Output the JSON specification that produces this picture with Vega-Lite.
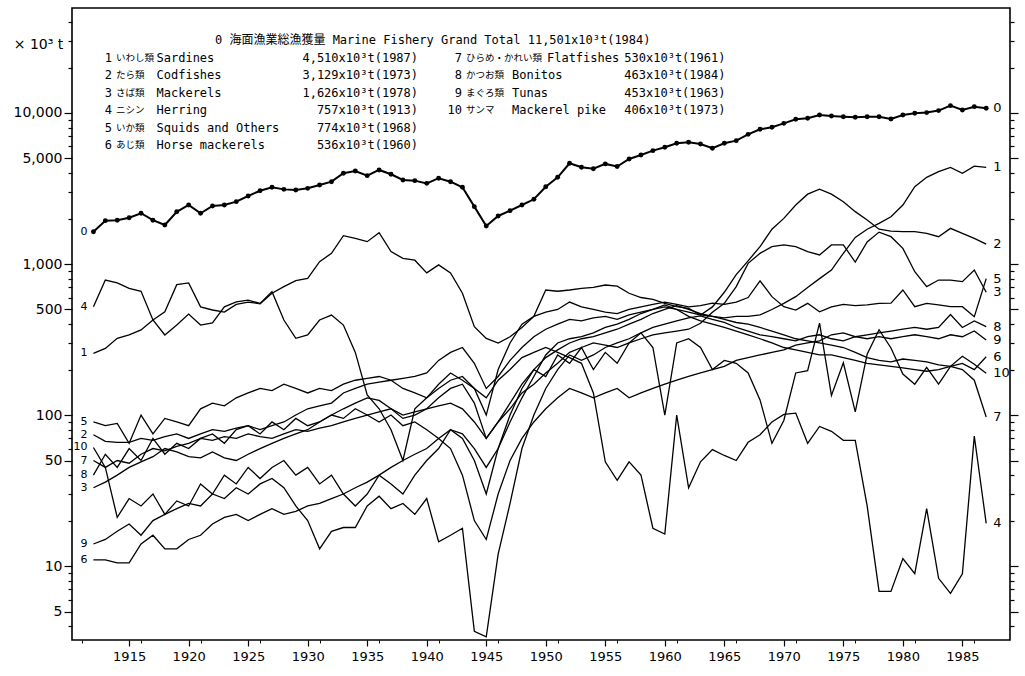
{
"$schema": "https://vega.github.io/schema/vega-lite/v6.json",
"width": 938, "height": 632,
"autosize": {"type": "none"},
"padding": {"left": 72, "top": 8, "right": 15, "bottom": 36},
"background": "white",
"config": {"view": {"stroke": "black", "strokeWidth": 1.6}, "font": "DejaVu Sans", "axis": {"labelFlush": false}},
"datasets": {
"legend": [
{"id":0,"ja":"海面漁業総漁獲量","en":"Marine Fishery Grand Total","max":"11,501x10³t(1984)"},
{"id":1,"ja":"いわし類","en":"Sardines","max":"4,510x10³t(1987)"},
{"id":2,"ja":"たら類","en":"Codfishes","max":"3,129x10³t(1973)"},
{"id":3,"ja":"さば類","en":"Mackerels","max":"1,626x10³t(1978)"},
{"id":4,"ja":"ニシン","en":"Herring","max":"757x10³t(1913)"},
{"id":5,"ja":"いか類","en":"Squids and Others","max":"774x10³t(1968)"},
{"id":6,"ja":"あじ類","en":"Horse mackerels","max":"536x10³t(1960)"},
{"id":7,"ja":"ひらめ・かれい類","en":"Flatfishes","max":"530x10³t(1961)"},
{"id":8,"ja":"かつお類","en":"Bonitos","max":"463x10³t(1984)"},
{"id":9,"ja":"まぐろ類","en":"Tunas","max":"453x10³t(1963)"},
{"id":10,"ja":"サンマ","en":"Mackerel pike","max":"406x10³t(1973)"}
],
"series": [
{"s":0,"year":1912,"v":1637},{"s":0,"year":1913,"v":1937},{"s":0,"year":1914,"v":1950},{"s":0,"year":1915,"v":2026},{"s":0,"year":1916,"v":2168},{"s":0,"year":1917,"v":1950},{"s":0,"year":1918,"v":1812},{"s":0,"year":1919,"v":2218},{"s":0,"year":1920,"v":2459},{"s":0,"year":1921,"v":2168},{"s":0,"year":1922,"v":2422},{"s":0,"year":1923,"v":2459},{"s":0,"year":1924,"v":2587},{"s":0,"year":1925,"v":2820},{"s":0,"year":1926,"v":3057},{"s":0,"year":1927,"v":3220},{"s":0,"year":1928,"v":3120},{"s":0,"year":1929,"v":3090},{"s":0,"year":1930,"v":3170},{"s":0,"year":1931,"v":3335},{"s":0,"year":1932,"v":3508},{"s":0,"year":1933,"v":3990},{"s":0,"year":1934,"v":4130},{"s":0,"year":1935,"v":3846},{"s":0,"year":1936,"v":4195},{"s":0,"year":1937,"v":3930},{"s":0,"year":1938,"v":3600},{"s":0,"year":1939,"v":3565},{"s":0,"year":1940,"v":3420},{"s":0,"year":1941,"v":3700},{"s":0,"year":1942,"v":3508},{"s":0,"year":1943,"v":3220},{"s":0,"year":1944,"v":2398},{"s":0,"year":1945,"v":1786},{"s":0,"year":1946,"v":2080},{"s":0,"year":1947,"v":2255},{"s":0,"year":1948,"v":2459},{"s":0,"year":1949,"v":2682},{"s":0,"year":1950,"v":3250},{"s":0,"year":1951,"v":3750},{"s":0,"year":1952,"v":4645},{"s":0,"year":1953,"v":4368},{"s":0,"year":1954,"v":4277},{"s":0,"year":1955,"v":4600},{"s":0,"year":1956,"v":4418},{"s":0,"year":1957,"v":4960},{"s":0,"year":1958,"v":5270},{"s":0,"year":1959,"v":5630},{"s":0,"year":1960,"v":5930},{"s":0,"year":1961,"v":6300},{"s":0,"year":1962,"v":6400},{"s":0,"year":1963,"v":6230},{"s":0,"year":1964,"v":5840},{"s":0,"year":1965,"v":6300},{"s":0,"year":1966,"v":6560},{"s":0,"year":1967,"v":7220},{"s":0,"year":1968,"v":7800},{"s":0,"year":1969,"v":8040},{"s":0,"year":1970,"v":8540},{"s":0,"year":1971,"v":9090},{"s":0,"year":1972,"v":9230},{"s":0,"year":1973,"v":9700},{"s":0,"year":1974,"v":9550},{"s":0,"year":1975,"v":9450},{"s":0,"year":1976,"v":9360},{"s":0,"year":1977,"v":9450},{"s":0,"year":1978,"v":9450},{"s":0,"year":1979,"v":9130},{"s":0,"year":1980,"v":9700},{"s":0,"year":1981,"v":9950},{"s":0,"year":1982,"v":10060},{"s":0,"year":1983,"v":10370},{"s":0,"year":1984,"v":11180},{"s":0,"year":1985,"v":10470},{"s":0,"year":1986,"v":11010},{"s":0,"year":1987,"v":10740},

{"s":1,"year":1912,"v":256},{"s":1,"year":1913,"v":276},{"s":1,"year":1914,"v":322},{"s":1,"year":1915,"v":339},{"s":1,"year":1916,"v":366},{"s":1,"year":1917,"v":426},{"s":1,"year":1918,"v":483},{"s":1,"year":1919,"v":730},{"s":1,"year":1920,"v":750},{"s":1,"year":1921,"v":520},{"s":1,"year":1922,"v":496},{"s":1,"year":1923,"v":480},{"s":1,"year":1924,"v":540},{"s":1,"year":1925,"v":560},{"s":1,"year":1926,"v":545},{"s":1,"year":1927,"v":640},{"s":1,"year":1928,"v":708},{"s":1,"year":1929,"v":776},{"s":1,"year":1930,"v":804},{"s":1,"year":1931,"v":1037},{"s":1,"year":1932,"v":1177},{"s":1,"year":1933,"v":1540},{"s":1,"year":1934,"v":1480},{"s":1,"year":1935,"v":1406},{"s":1,"year":1936,"v":1613},{"s":1,"year":1937,"v":1208},{"s":1,"year":1938,"v":1090},{"s":1,"year":1939,"v":1060},{"s":1,"year":1940,"v":874},{"s":1,"year":1941,"v":987},{"s":1,"year":1942,"v":874},{"s":1,"year":1943,"v":640},{"s":1,"year":1944,"v":385},{"s":1,"year":1945,"v":322},{"s":1,"year":1946,"v":300},{"s":1,"year":1947,"v":330},{"s":1,"year":1948,"v":380},{"s":1,"year":1949,"v":450},{"s":1,"year":1950,"v":673},{"s":1,"year":1951,"v":660},{"s":1,"year":1952,"v":673},{"s":1,"year":1953,"v":690},{"s":1,"year":1954,"v":700},{"s":1,"year":1955,"v":726},{"s":1,"year":1956,"v":714},{"s":1,"year":1957,"v":640},{"s":1,"year":1958,"v":600},{"s":1,"year":1959,"v":583},{"s":1,"year":1960,"v":549},{"s":1,"year":1961,"v":522},{"s":1,"year":1962,"v":508},{"s":1,"year":1963,"v":460},{"s":1,"year":1964,"v":450},{"s":1,"year":1965,"v":440},{"s":1,"year":1966,"v":450},{"s":1,"year":1967,"v":450},{"s":1,"year":1968,"v":460},{"s":1,"year":1969,"v":500},{"s":1,"year":1970,"v":549},{"s":1,"year":1971,"v":608},{"s":1,"year":1972,"v":700},{"s":1,"year":1973,"v":800},{"s":1,"year":1974,"v":912},{"s":1,"year":1975,"v":1178},{"s":1,"year":1976,"v":1500},{"s":1,"year":1977,"v":1700},{"s":1,"year":1978,"v":1858},{"s":1,"year":1979,"v":2057},{"s":1,"year":1980,"v":2459},{"s":1,"year":1981,"v":3253},{"s":1,"year":1982,"v":3750},{"s":1,"year":1983,"v":4086},{"s":1,"year":1984,"v":4365},{"s":1,"year":1985,"v":3985},{"s":1,"year":1986,"v":4450},{"s":1,"year":1987,"v":4365},

{"s":2,"year":1912,"v":74},{"s":2,"year":1913,"v":67},{"s":2,"year":1914,"v":66},{"s":2,"year":1915,"v":66},{"s":2,"year":1916,"v":70},{"s":2,"year":1917,"v":68},{"s":2,"year":1918,"v":72},{"s":2,"year":1919,"v":75},{"s":2,"year":1920,"v":70},{"s":2,"year":1921,"v":75},{"s":2,"year":1922,"v":80},{"s":2,"year":1923,"v":78},{"s":2,"year":1924,"v":82},{"s":2,"year":1925,"v":85},{"s":2,"year":1926,"v":80},{"s":2,"year":1927,"v":85},{"s":2,"year":1928,"v":90},{"s":2,"year":1929,"v":100},{"s":2,"year":1930,"v":110},{"s":2,"year":1931,"v":115},{"s":2,"year":1932,"v":120},{"s":2,"year":1933,"v":140},{"s":2,"year":1934,"v":150},{"s":2,"year":1935,"v":160},{"s":2,"year":1936,"v":165},{"s":2,"year":1937,"v":170},{"s":2,"year":1938,"v":175},{"s":2,"year":1939,"v":180},{"s":2,"year":1940,"v":190},{"s":2,"year":1941,"v":230},{"s":2,"year":1942,"v":260},{"s":2,"year":1943,"v":280},{"s":2,"year":1944,"v":220},{"s":2,"year":1945,"v":150},{"s":2,"year":1946,"v":180},{"s":2,"year":1947,"v":230},{"s":2,"year":1948,"v":280},{"s":2,"year":1949,"v":330},{"s":2,"year":1950,"v":370},{"s":2,"year":1951,"v":400},{"s":2,"year":1952,"v":430},{"s":2,"year":1953,"v":420},{"s":2,"year":1954,"v":440},{"s":2,"year":1955,"v":450},{"s":2,"year":1956,"v":430},{"s":2,"year":1957,"v":460},{"s":2,"year":1958,"v":480},{"s":2,"year":1959,"v":500},{"s":2,"year":1960,"v":520},{"s":2,"year":1961,"v":500},{"s":2,"year":1962,"v":480},{"s":2,"year":1963,"v":460},{"s":2,"year":1964,"v":520},{"s":2,"year":1965,"v":650},{"s":2,"year":1966,"v":850},{"s":2,"year":1967,"v":1050},{"s":2,"year":1968,"v":1303},{"s":2,"year":1969,"v":1700},{"s":2,"year":1970,"v":2005},{"s":2,"year":1971,"v":2457},{"s":2,"year":1972,"v":2900},{"s":2,"year":1973,"v":3129},{"s":2,"year":1974,"v":2900},{"s":2,"year":1975,"v":2585},{"s":2,"year":1976,"v":2222},{"s":2,"year":1977,"v":1955},{"s":2,"year":1978,"v":1700},{"s":2,"year":1979,"v":1650},{"s":2,"year":1980,"v":1637},{"s":2,"year":1981,"v":1637},{"s":2,"year":1982,"v":1597},{"s":2,"year":1983,"v":1517},{"s":2,"year":1984,"v":1722},{"s":2,"year":1985,"v":1597},{"s":2,"year":1986,"v":1480},{"s":2,"year":1987,"v":1355},

{"s":3,"year":1912,"v":33},{"s":3,"year":1913,"v":36},{"s":3,"year":1914,"v":40},{"s":3,"year":1915,"v":45},{"s":3,"year":1916,"v":49},{"s":3,"year":1917,"v":53},{"s":3,"year":1918,"v":60},{"s":3,"year":1919,"v":57},{"s":3,"year":1920,"v":53},{"s":3,"year":1921,"v":52},{"s":3,"year":1922,"v":57},{"s":3,"year":1923,"v":52},{"s":3,"year":1924,"v":50},{"s":3,"year":1925,"v":55},{"s":3,"year":1926,"v":60},{"s":3,"year":1927,"v":65},{"s":3,"year":1928,"v":70},{"s":3,"year":1929,"v":75},{"s":3,"year":1930,"v":80},{"s":3,"year":1931,"v":90},{"s":3,"year":1932,"v":100},{"s":3,"year":1933,"v":110},{"s":3,"year":1934,"v":120},{"s":3,"year":1935,"v":130},{"s":3,"year":1936,"v":125},{"s":3,"year":1937,"v":110},{"s":3,"year":1938,"v":95},{"s":3,"year":1939,"v":100},{"s":3,"year":1940,"v":110},{"s":3,"year":1941,"v":130},{"s":3,"year":1942,"v":150},{"s":3,"year":1943,"v":160},{"s":3,"year":1944,"v":120},{"s":3,"year":1945,"v":70},{"s":3,"year":1946,"v":90},{"s":3,"year":1947,"v":110},{"s":3,"year":1948,"v":140},{"s":3,"year":1949,"v":160},{"s":3,"year":1950,"v":190},{"s":3,"year":1951,"v":220},{"s":3,"year":1952,"v":260},{"s":3,"year":1953,"v":280},{"s":3,"year":1954,"v":300},{"s":3,"year":1955,"v":290},{"s":3,"year":1956,"v":280},{"s":3,"year":1957,"v":300},{"s":3,"year":1958,"v":320},{"s":3,"year":1959,"v":340},{"s":3,"year":1960,"v":350},{"s":3,"year":1961,"v":360},{"s":3,"year":1962,"v":370},{"s":3,"year":1963,"v":405},{"s":3,"year":1964,"v":480},{"s":3,"year":1965,"v":549},{"s":3,"year":1966,"v":708},{"s":3,"year":1967,"v":1010},{"s":3,"year":1968,"v":1177},{"s":3,"year":1969,"v":1303},{"s":3,"year":1970,"v":1337},{"s":3,"year":1971,"v":1303},{"s":3,"year":1972,"v":1208},{"s":3,"year":1973,"v":1148},{"s":3,"year":1974,"v":1337},{"s":3,"year":1975,"v":1337},{"s":3,"year":1976,"v":1030},{"s":3,"year":1977,"v":1400},{"s":3,"year":1978,"v":1626},{"s":3,"year":1979,"v":1517},{"s":3,"year":1980,"v":1270},{"s":3,"year":1981,"v":889},{"s":3,"year":1982,"v":708},{"s":3,"year":1983,"v":783},{"s":3,"year":1984,"v":783},{"s":3,"year":1985,"v":764},{"s":3,"year":1986,"v":912},{"s":3,"year":1987,"v":650},

{"s":4,"year":1912,"v":521},{"s":4,"year":1913,"v":783},{"s":4,"year":1914,"v":750},{"s":4,"year":1915,"v":690},{"s":4,"year":1916,"v":660},{"s":4,"year":1917,"v":426},{"s":4,"year":1918,"v":339},{"s":4,"year":1919,"v":394},{"s":4,"year":1920,"v":466},{"s":4,"year":1921,"v":394},{"s":4,"year":1922,"v":408},{"s":4,"year":1923,"v":521},{"s":4,"year":1924,"v":562},{"s":4,"year":1925,"v":576},{"s":4,"year":1926,"v":548},{"s":4,"year":1927,"v":656},{"s":4,"year":1928,"v":426},{"s":4,"year":1929,"v":322},{"s":4,"year":1930,"v":339},{"s":4,"year":1931,"v":426},{"s":4,"year":1932,"v":459},{"s":4,"year":1933,"v":394},{"s":4,"year":1934,"v":260},{"s":4,"year":1935,"v":136},{"s":4,"year":1936,"v":110},{"s":4,"year":1937,"v":80},{"s":4,"year":1938,"v":50},{"s":4,"year":1939,"v":110},{"s":4,"year":1940,"v":130},{"s":4,"year":1941,"v":160},{"s":4,"year":1942,"v":190},{"s":4,"year":1943,"v":170},{"s":4,"year":1944,"v":150},{"s":4,"year":1945,"v":130},{"s":4,"year":1946,"v":170},{"s":4,"year":1947,"v":200},{"s":4,"year":1948,"v":240},{"s":4,"year":1949,"v":260},{"s":4,"year":1950,"v":280},{"s":4,"year":1951,"v":260},{"s":4,"year":1952,"v":240},{"s":4,"year":1953,"v":220},{"s":4,"year":1954,"v":140},{"s":4,"year":1955,"v":49},{"s":4,"year":1956,"v":37},{"s":4,"year":1957,"v":49},{"s":4,"year":1958,"v":40},{"s":4,"year":1959,"v":17.8},{"s":4,"year":1960,"v":16.3},{"s":4,"year":1961,"v":100},{"s":4,"year":1962,"v":33},{"s":4,"year":1963,"v":49},{"s":4,"year":1964,"v":59},{"s":4,"year":1965,"v":54},{"s":4,"year":1966,"v":50},{"s":4,"year":1967,"v":66},{"s":4,"year":1968,"v":74},{"s":4,"year":1969,"v":90},{"s":4,"year":1970,"v":101},{"s":4,"year":1971,"v":103},{"s":4,"year":1972,"v":65},{"s":4,"year":1973,"v":84},{"s":4,"year":1974,"v":78},{"s":4,"year":1975,"v":68},{"s":4,"year":1976,"v":68},{"s":4,"year":1977,"v":25},{"s":4,"year":1978,"v":6.8},{"s":4,"year":1979,"v":6.8},{"s":4,"year":1980,"v":11.2},{"s":4,"year":1981,"v":8.9},{"s":4,"year":1982,"v":24},{"s":4,"year":1983,"v":8.3},{"s":4,"year":1984,"v":6.6},{"s":4,"year":1985,"v":8.9},{"s":4,"year":1986,"v":72.6},{"s":4,"year":1987,"v":19.2},

{"s":5,"year":1912,"v":90},{"s":5,"year":1913,"v":85},{"s":5,"year":1914,"v":88},{"s":5,"year":1915,"v":65},{"s":5,"year":1916,"v":100},{"s":5,"year":1917,"v":75},{"s":5,"year":1918,"v":95},{"s":5,"year":1919,"v":90},{"s":5,"year":1920,"v":85},{"s":5,"year":1921,"v":110},{"s":5,"year":1922,"v":120},{"s":5,"year":1923,"v":115},{"s":5,"year":1924,"v":130},{"s":5,"year":1925,"v":140},{"s":5,"year":1926,"v":150},{"s":5,"year":1927,"v":145},{"s":5,"year":1928,"v":160},{"s":5,"year":1929,"v":150},{"s":5,"year":1930,"v":140},{"s":5,"year":1931,"v":150},{"s":5,"year":1932,"v":145},{"s":5,"year":1933,"v":160},{"s":5,"year":1934,"v":170},{"s":5,"year":1935,"v":175},{"s":5,"year":1936,"v":180},{"s":5,"year":1937,"v":170},{"s":5,"year":1938,"v":150},{"s":5,"year":1939,"v":140},{"s":5,"year":1940,"v":130},{"s":5,"year":1941,"v":150},{"s":5,"year":1942,"v":170},{"s":5,"year":1943,"v":180},{"s":5,"year":1944,"v":150},{"s":5,"year":1945,"v":100},{"s":5,"year":1946,"v":200},{"s":5,"year":1947,"v":300},{"s":5,"year":1948,"v":400},{"s":5,"year":1949,"v":450},{"s":5,"year":1950,"v":480},{"s":5,"year":1951,"v":500},{"s":5,"year":1952,"v":560},{"s":5,"year":1953,"v":520},{"s":5,"year":1954,"v":500},{"s":5,"year":1955,"v":480},{"s":5,"year":1956,"v":470},{"s":5,"year":1957,"v":500},{"s":5,"year":1958,"v":520},{"s":5,"year":1959,"v":540},{"s":5,"year":1960,"v":560},{"s":5,"year":1961,"v":540},{"s":5,"year":1962,"v":520},{"s":5,"year":1963,"v":530},{"s":5,"year":1964,"v":550},{"s":5,"year":1965,"v":540},{"s":5,"year":1966,"v":560},{"s":5,"year":1967,"v":600},{"s":5,"year":1968,"v":774},{"s":5,"year":1969,"v":608},{"s":5,"year":1970,"v":522},{"s":5,"year":1971,"v":496},{"s":5,"year":1972,"v":549},{"s":5,"year":1973,"v":483},{"s":5,"year":1974,"v":520},{"s":5,"year":1975,"v":540},{"s":5,"year":1976,"v":530},{"s":5,"year":1977,"v":536},{"s":5,"year":1978,"v":549},{"s":5,"year":1979,"v":550},{"s":5,"year":1980,"v":673},{"s":5,"year":1981,"v":522},{"s":5,"year":1982,"v":549},{"s":5,"year":1983,"v":536},{"s":5,"year":1984,"v":522},{"s":5,"year":1985,"v":522},{"s":5,"year":1986,"v":448},{"s":5,"year":1987,"v":800},

{"s":6,"year":1912,"v":11},{"s":6,"year":1913,"v":11},{"s":6,"year":1914,"v":10.5},{"s":6,"year":1915,"v":10.5},{"s":6,"year":1916,"v":14},{"s":6,"year":1917,"v":16},{"s":6,"year":1918,"v":13},{"s":6,"year":1919,"v":13},{"s":6,"year":1920,"v":15},{"s":6,"year":1921,"v":16},{"s":6,"year":1922,"v":19},{"s":6,"year":1923,"v":21},{"s":6,"year":1924,"v":22},{"s":6,"year":1925,"v":20},{"s":6,"year":1926,"v":22},{"s":6,"year":1927,"v":24},{"s":6,"year":1928,"v":22},{"s":6,"year":1929,"v":23},{"s":6,"year":1930,"v":25},{"s":6,"year":1931,"v":26},{"s":6,"year":1932,"v":28},{"s":6,"year":1933,"v":30},{"s":6,"year":1934,"v":33},{"s":6,"year":1935,"v":36},{"s":6,"year":1936,"v":40},{"s":6,"year":1937,"v":45},{"s":6,"year":1938,"v":50},{"s":6,"year":1939,"v":55},{"s":6,"year":1940,"v":60},{"s":6,"year":1941,"v":70},{"s":6,"year":1942,"v":80},{"s":6,"year":1943,"v":75},{"s":6,"year":1944,"v":60},{"s":6,"year":1945,"v":45},{"s":6,"year":1946,"v":60},{"s":6,"year":1947,"v":90},{"s":6,"year":1948,"v":130},{"s":6,"year":1949,"v":180},{"s":6,"year":1950,"v":250},{"s":6,"year":1951,"v":300},{"s":6,"year":1952,"v":320},{"s":6,"year":1953,"v":330},{"s":6,"year":1954,"v":350},{"s":6,"year":1955,"v":380},{"s":6,"year":1956,"v":400},{"s":6,"year":1957,"v":430},{"s":6,"year":1958,"v":470},{"s":6,"year":1959,"v":500},{"s":6,"year":1960,"v":536},{"s":6,"year":1961,"v":500},{"s":6,"year":1962,"v":450},{"s":6,"year":1963,"v":420},{"s":6,"year":1964,"v":400},{"s":6,"year":1965,"v":380},{"s":6,"year":1966,"v":360},{"s":6,"year":1967,"v":340},{"s":6,"year":1968,"v":320},{"s":6,"year":1969,"v":300},{"s":6,"year":1970,"v":280},{"s":6,"year":1971,"v":270},{"s":6,"year":1972,"v":260},{"s":6,"year":1973,"v":250},{"s":6,"year":1974,"v":250},{"s":6,"year":1975,"v":240},{"s":6,"year":1976,"v":230},{"s":6,"year":1977,"v":220},{"s":6,"year":1978,"v":215},{"s":6,"year":1979,"v":210},{"s":6,"year":1980,"v":205},{"s":6,"year":1981,"v":200},{"s":6,"year":1982,"v":195},{"s":6,"year":1983,"v":200},{"s":6,"year":1984,"v":210},{"s":6,"year":1985,"v":220},{"s":6,"year":1986,"v":200},{"s":6,"year":1987,"v":243},

{"s":7,"year":1912,"v":50},{"s":7,"year":1913,"v":45},{"s":7,"year":1914,"v":50},{"s":7,"year":1915,"v":48},{"s":7,"year":1916,"v":55},{"s":7,"year":1917,"v":60},{"s":7,"year":1918,"v":58},{"s":7,"year":1919,"v":62},{"s":7,"year":1920,"v":65},{"s":7,"year":1921,"v":70},{"s":7,"year":1922,"v":68},{"s":7,"year":1923,"v":72},{"s":7,"year":1924,"v":70},{"s":7,"year":1925,"v":75},{"s":7,"year":1926,"v":72},{"s":7,"year":1927,"v":70},{"s":7,"year":1928,"v":75},{"s":7,"year":1929,"v":80},{"s":7,"year":1930,"v":78},{"s":7,"year":1931,"v":82},{"s":7,"year":1932,"v":85},{"s":7,"year":1933,"v":90},{"s":7,"year":1934,"v":95},{"s":7,"year":1935,"v":100},{"s":7,"year":1936,"v":105},{"s":7,"year":1937,"v":110},{"s":7,"year":1938,"v":100},{"s":7,"year":1939,"v":105},{"s":7,"year":1940,"v":110},{"s":7,"year":1941,"v":115},{"s":7,"year":1942,"v":120},{"s":7,"year":1943,"v":110},{"s":7,"year":1944,"v":90},{"s":7,"year":1945,"v":70},{"s":7,"year":1946,"v":90},{"s":7,"year":1947,"v":120},{"s":7,"year":1948,"v":160},{"s":7,"year":1949,"v":200},{"s":7,"year":1950,"v":240},{"s":7,"year":1951,"v":270},{"s":7,"year":1952,"v":300},{"s":7,"year":1953,"v":320},{"s":7,"year":1954,"v":330},{"s":7,"year":1955,"v":350},{"s":7,"year":1956,"v":370},{"s":7,"year":1957,"v":400},{"s":7,"year":1958,"v":430},{"s":7,"year":1959,"v":470},{"s":7,"year":1960,"v":500},{"s":7,"year":1961,"v":530},{"s":7,"year":1962,"v":500},{"s":7,"year":1963,"v":470},{"s":7,"year":1964,"v":450},{"s":7,"year":1965,"v":430},{"s":7,"year":1966,"v":410},{"s":7,"year":1967,"v":400},{"s":7,"year":1968,"v":380},{"s":7,"year":1969,"v":360},{"s":7,"year":1970,"v":340},{"s":7,"year":1971,"v":320},{"s":7,"year":1972,"v":310},{"s":7,"year":1973,"v":300},{"s":7,"year":1974,"v":290},{"s":7,"year":1975,"v":280},{"s":7,"year":1976,"v":260},{"s":7,"year":1977,"v":240},{"s":7,"year":1978,"v":230},{"s":7,"year":1979,"v":225},{"s":7,"year":1980,"v":235},{"s":7,"year":1981,"v":230},{"s":7,"year":1982,"v":225},{"s":7,"year":1983,"v":215},{"s":7,"year":1984,"v":210},{"s":7,"year":1985,"v":200},{"s":7,"year":1986,"v":170},{"s":7,"year":1987,"v":97},

{"s":8,"year":1912,"v":40},{"s":8,"year":1913,"v":55},{"s":8,"year":1914,"v":45},{"s":8,"year":1915,"v":60},{"s":8,"year":1916,"v":50},{"s":8,"year":1917,"v":70},{"s":8,"year":1918,"v":55},{"s":8,"year":1919,"v":65},{"s":8,"year":1920,"v":60},{"s":8,"year":1921,"v":70},{"s":8,"year":1922,"v":75},{"s":8,"year":1923,"v":65},{"s":8,"year":1924,"v":80},{"s":8,"year":1925,"v":85},{"s":8,"year":1926,"v":75},{"s":8,"year":1927,"v":90},{"s":8,"year":1928,"v":80},{"s":8,"year":1929,"v":95},{"s":8,"year":1930,"v":85},{"s":8,"year":1931,"v":90},{"s":8,"year":1932,"v":100},{"s":8,"year":1933,"v":95},{"s":8,"year":1934,"v":110},{"s":8,"year":1935,"v":100},{"s":8,"year":1936,"v":90},{"s":8,"year":1937,"v":100},{"s":8,"year":1938,"v":85},{"s":8,"year":1939,"v":90},{"s":8,"year":1940,"v":80},{"s":8,"year":1941,"v":70},{"s":8,"year":1942,"v":60},{"s":8,"year":1943,"v":40},{"s":8,"year":1944,"v":20},{"s":8,"year":1945,"v":15},{"s":8,"year":1946,"v":30},{"s":8,"year":1947,"v":50},{"s":8,"year":1948,"v":70},{"s":8,"year":1949,"v":90},{"s":8,"year":1950,"v":110},{"s":8,"year":1951,"v":130},{"s":8,"year":1952,"v":150},{"s":8,"year":1953,"v":140},{"s":8,"year":1954,"v":130},{"s":8,"year":1955,"v":140},{"s":8,"year":1956,"v":150},{"s":8,"year":1957,"v":130},{"s":8,"year":1958,"v":140},{"s":8,"year":1959,"v":150},{"s":8,"year":1960,"v":160},{"s":8,"year":1961,"v":170},{"s":8,"year":1962,"v":180},{"s":8,"year":1963,"v":190},{"s":8,"year":1964,"v":200},{"s":8,"year":1965,"v":210},{"s":8,"year":1966,"v":230},{"s":8,"year":1967,"v":240},{"s":8,"year":1968,"v":250},{"s":8,"year":1969,"v":260},{"s":8,"year":1970,"v":270},{"s":8,"year":1971,"v":290},{"s":8,"year":1972,"v":300},{"s":8,"year":1973,"v":310},{"s":8,"year":1974,"v":340},{"s":8,"year":1975,"v":350},{"s":8,"year":1976,"v":330},{"s":8,"year":1977,"v":340},{"s":8,"year":1978,"v":350},{"s":8,"year":1979,"v":360},{"s":8,"year":1980,"v":370},{"s":8,"year":1981,"v":380},{"s":8,"year":1982,"v":370},{"s":8,"year":1983,"v":380},{"s":8,"year":1984,"v":463},{"s":8,"year":1985,"v":380},{"s":8,"year":1986,"v":420},{"s":8,"year":1987,"v":385},

{"s":9,"year":1912,"v":14},{"s":9,"year":1913,"v":15},{"s":9,"year":1914,"v":17},{"s":9,"year":1915,"v":19},{"s":9,"year":1916,"v":16},{"s":9,"year":1917,"v":20},{"s":9,"year":1918,"v":22},{"s":9,"year":1919,"v":24},{"s":9,"year":1920,"v":26},{"s":9,"year":1921,"v":25},{"s":9,"year":1922,"v":30},{"s":9,"year":1923,"v":28},{"s":9,"year":1924,"v":33},{"s":9,"year":1925,"v":30},{"s":9,"year":1926,"v":35},{"s":9,"year":1927,"v":38},{"s":9,"year":1928,"v":33},{"s":9,"year":1929,"v":25},{"s":9,"year":1930,"v":20},{"s":9,"year":1931,"v":13},{"s":9,"year":1932,"v":17},{"s":9,"year":1933,"v":18},{"s":9,"year":1934,"v":18},{"s":9,"year":1935,"v":25},{"s":9,"year":1936,"v":29},{"s":9,"year":1937,"v":24},{"s":9,"year":1938,"v":26},{"s":9,"year":1939,"v":22},{"s":9,"year":1940,"v":28},{"s":9,"year":1941,"v":14.5},{"s":9,"year":1942,"v":16},{"s":9,"year":1943,"v":17.8},{"s":9,"year":1944,"v":3.7},{"s":9,"year":1945,"v":3.4},{"s":9,"year":1946,"v":12},{"s":9,"year":1947,"v":26},{"s":9,"year":1948,"v":60},{"s":9,"year":1949,"v":100},{"s":9,"year":1950,"v":150},{"s":9,"year":1951,"v":200},{"s":9,"year":1952,"v":250},{"s":9,"year":1953,"v":230},{"s":9,"year":1954,"v":250},{"s":9,"year":1955,"v":280},{"s":9,"year":1956,"v":300},{"s":9,"year":1957,"v":320},{"s":9,"year":1958,"v":350},{"s":9,"year":1959,"v":380},{"s":9,"year":1960,"v":400},{"s":9,"year":1961,"v":420},{"s":9,"year":1962,"v":440},{"s":9,"year":1963,"v":453},{"s":9,"year":1964,"v":430},{"s":9,"year":1965,"v":410},{"s":9,"year":1966,"v":380},{"s":9,"year":1967,"v":360},{"s":9,"year":1968,"v":340},{"s":9,"year":1969,"v":330},{"s":9,"year":1970,"v":320},{"s":9,"year":1971,"v":310},{"s":9,"year":1972,"v":330},{"s":9,"year":1973,"v":340},{"s":9,"year":1974,"v":320},{"s":9,"year":1975,"v":310},{"s":9,"year":1976,"v":330},{"s":9,"year":1977,"v":320},{"s":9,"year":1978,"v":330},{"s":9,"year":1979,"v":320},{"s":9,"year":1980,"v":330},{"s":9,"year":1981,"v":340},{"s":9,"year":1982,"v":330},{"s":9,"year":1983,"v":320},{"s":9,"year":1984,"v":340},{"s":9,"year":1985,"v":330},{"s":9,"year":1986,"v":360},{"s":9,"year":1987,"v":314},

{"s":10,"year":1912,"v":61},{"s":10,"year":1913,"v":45},{"s":10,"year":1914,"v":21},{"s":10,"year":1915,"v":28},{"s":10,"year":1916,"v":25},{"s":10,"year":1917,"v":30},{"s":10,"year":1918,"v":22},{"s":10,"year":1919,"v":27},{"s":10,"year":1920,"v":25},{"s":10,"year":1921,"v":35},{"s":10,"year":1922,"v":30},{"s":10,"year":1923,"v":40},{"s":10,"year":1924,"v":35},{"s":10,"year":1925,"v":45},{"s":10,"year":1926,"v":38},{"s":10,"year":1927,"v":45},{"s":10,"year":1928,"v":50},{"s":10,"year":1929,"v":40},{"s":10,"year":1930,"v":45},{"s":10,"year":1931,"v":35},{"s":10,"year":1932,"v":40},{"s":10,"year":1933,"v":30},{"s":10,"year":1934,"v":25},{"s":10,"year":1935,"v":30},{"s":10,"year":1936,"v":40},{"s":10,"year":1937,"v":35},{"s":10,"year":1938,"v":30},{"s":10,"year":1939,"v":40},{"s":10,"year":1940,"v":50},{"s":10,"year":1941,"v":60},{"s":10,"year":1942,"v":80},{"s":10,"year":1943,"v":70},{"s":10,"year":1944,"v":50},{"s":10,"year":1945,"v":30},{"s":10,"year":1946,"v":60},{"s":10,"year":1947,"v":100},{"s":10,"year":1948,"v":150},{"s":10,"year":1949,"v":200},{"s":10,"year":1950,"v":180},{"s":10,"year":1951,"v":250},{"s":10,"year":1952,"v":220},{"s":10,"year":1953,"v":280},{"s":10,"year":1954,"v":200},{"s":10,"year":1955,"v":260},{"s":10,"year":1956,"v":220},{"s":10,"year":1957,"v":300},{"s":10,"year":1958,"v":350},{"s":10,"year":1959,"v":280},{"s":10,"year":1960,"v":100},{"s":10,"year":1961,"v":300},{"s":10,"year":1962,"v":320},{"s":10,"year":1963,"v":280},{"s":10,"year":1964,"v":200},{"s":10,"year":1965,"v":230},{"s":10,"year":1966,"v":220},{"s":10,"year":1967,"v":190},{"s":10,"year":1968,"v":126},{"s":10,"year":1969,"v":65},{"s":10,"year":1970,"v":92},{"s":10,"year":1971,"v":190},{"s":10,"year":1972,"v":197},{"s":10,"year":1973,"v":406},{"s":10,"year":1974,"v":135},{"s":10,"year":1975,"v":222},{"s":10,"year":1976,"v":105},{"s":10,"year":1977,"v":253},{"s":10,"year":1978,"v":367},{"s":10,"year":1979,"v":278},{"s":10,"year":1980,"v":187},{"s":10,"year":1981,"v":160},{"s":10,"year":1982,"v":207},{"s":10,"year":1983,"v":160},{"s":10,"year":1984,"v":210},{"s":10,"year":1985,"v":245},{"s":10,"year":1986,"v":217},{"s":10,"year":1987,"v":189}
]
},
"layer": [
{
"data": {"name": "series"},
"layer": [
{
"mark": {"type": "line", "color": "black", "strokeWidth": 1.3},
"transform": [{"filter": "datum.s != 0"}],
"encoding": {
"x": {"field": "year", "type": "quantitative", "scale": {"domain": [1910.2, 1989], "nice": false, "zero": false},
"axis": {"title": null, "domain": false, "grid": false,
"values": [1915,1920,1925,1930,1935,1940,1945,1950,1955,1960,1965,1970,1975,1980,1985],
"format": "d", "labelOverlap": false, "labelFont": "DejaVu Sans", "labelFontSize": 13, "labelColor": "black", "labelPadding": 4,
"tickColor": "black", "tickWidth": 1.2, "tickSize": 6}},
"y": {"field": "v", "type": "quantitative", "scale": {"type": "log", "domain": [3.24, 49550], "nice": false},
"axis": {"orient": "left", "domain": false, "grid": false,
"values": [4,5,6,7,8,9,10,20,30,40,50,60,70,80,90,100,200,300,400,500,600,700,800,900,1000,2000,3000,4000,5000,6000,7000,8000,9000,10000,20000,30000,40000],
"labelExpr": "indexof([5,10,50,100,500,1000,5000,10000], datum.value) >= 0 ? format(datum.value, ',') : ''",
"labelOverlap": false, "labelFont": "DejaVu Sans", "labelFontSize": 14, "labelColor": "black", "labelPadding": 2,
"tickColor": "black", "tickWidth": 1.2,
"tickSize": {"condition": {"test": "indexof([5,10,50,100,500,1000,5000,10000], datum.value) >= 0", "value": 8}, "value": 4},
"title": "× 10³ t", "titleAngle": 0, "titleAlign": "center", "titleBaseline": "middle", "titleX": -34, "titleY": 36, "titleFont": "DejaVu Sans", "titleFontSize": 14, "titleFontWeight": "normal", "titleColor": "black"}},
"detail": {"field": "s"}
}
},
{
"mark": {"type": "line", "color": "black", "strokeWidth": 2, "point": {"filled": true, "size": 24, "color": "black"}},
"transform": [{"filter": "datum.s == 0"}],
"encoding": {
"x": {"field": "year", "type": "quantitative"},
"y": {"field": "v", "type": "quantitative", "axis": null}
}
},
{
"mark": {"type": "point", "opacity": 0},
"transform": [{"filter": "datum.s == 0"}],
"encoding": {
"x": {"field": "year", "type": "quantitative"},
"y": {"field": "v", "type": "quantitative",
"axis": {"orient": "right", "domain": false, "grid": false, "labels": false, "title": null,
"values": [4,5,6,7,8,9,10,20,30,40,50,60,70,80,90,100,200,300,400,500,600,700,800,900,1000,2000,3000,4000,5000,6000,7000,8000,9000,10000,20000,30000,40000],
"tickColor": "black", "tickWidth": 1.2,
"tickSize": {"condition": {"test": "indexof([5,10,50,100,500,1000,5000,10000], datum.value) >= 0", "value": 8}, "value": 4}}}
}
},
{
"mark": {"type": "text", "align": "right", "baseline": "middle", "dx": -6, "font": "DejaVu Sans", "fontSize": 11, "color": "black"},
"transform": [{"filter": "datum.year == 1912"}],
"encoding": {
"x": {"field": "year", "type": "quantitative"},
"y": {"field": "v", "type": "quantitative", "axis": null},
"text": {"field": "s", "type": "nominal"}
}
},
{
"mark": {"type": "text", "align": "left", "baseline": "middle", "dx": 7, "font": "DejaVu Sans", "fontSize": 13, "color": "black"},
"transform": [{"filter": "datum.year == 1987"}],
"encoding": {
"x": {"field": "year", "type": "quantitative"},
"y": {"field": "v", "type": "quantitative", "axis": null},
"text": {"field": "s", "type": "nominal"}
}
}
],
"resolve": {"axis": {"y": "independent"}}
},
{
"data": {"name": "legend"},
"transform": [
{"calculate": "datum.id <= 6 ? datum.id : datum.id - 6", "as": "row"},
{"calculate": "datum.id + ' ' + datum.ja + ' ' + datum.en + ' ' + datum.max", "as": "full"}
],
"encoding": {
"y": {"field": "row", "type": "ordinal", "scale": {"type": "point", "domain": [0,1,2,3,4,5,6], "range": [32, 137], "padding": 0}, "axis": null}
},
"layer": [
{"transform": [{"filter": "datum.id == 0"}],
"mark": {"type": "text", "align": "left", "baseline": "middle", "font": "DejaVu Sans Mono, Noto Sans CJK JP", "fontSize": 12, "color": "black"},
"encoding": {"x": {"datum": 1922.21, "axis": {"orient": "bottom", "title": null, "domain": false, "grid": false, "labels": false,
"values": [1911,1912,1913,1914,1916,1917,1918,1919,1921,1922,1923,1924,1926,1927,1928,1929,1931,1932,1933,1934,1936,1937,1938,1939,1941,1942,1943,1944,1946,1947,1948,1949,1951,1952,1953,1954,1956,1957,1958,1959,1961,1962,1963,1964,1966,1967,1968,1969,1971,1972,1973,1974,1976,1977,1978,1979,1981,1982,1983,1984,1986,1987,1988],
"tickColor": "black", "tickWidth": 1, "tickSize": 3}}, "text": {"field": "full"}}},
{"transform": [{"filter": "datum.id >= 1 && datum.id <= 6"}],
"mark": {"type": "text", "align": "right", "baseline": "middle", "font": "DejaVu Sans Mono", "fontSize": 12, "color": "black"},
"encoding": {"x": {"datum": 1913.56}, "text": {"field": "id"}}},
{"transform": [{"filter": "datum.id >= 1 && datum.id <= 6"}],
"mark": {"type": "text", "align": "left", "baseline": "middle", "font": "Noto Sans CJK JP", "fontSize": 9.5, "color": "black"},
"encoding": {"x": {"datum": 1913.9}, "text": {"field": "ja"}}},
{"transform": [{"filter": "datum.id >= 1 && datum.id <= 6"}],
"mark": {"type": "text", "align": "left", "baseline": "middle", "font": "DejaVu Sans Mono", "fontSize": 12, "color": "black"},
"encoding": {"x": {"datum": 1917.3}, "text": {"field": "en"}}},
{"transform": [{"filter": "datum.id >= 1 && datum.id <= 6"}],
"mark": {"type": "text", "align": "right", "baseline": "middle", "font": "DejaVu Sans Mono", "fontSize": 12, "color": "black"},
"encoding": {"x": {"datum": 1939.27}, "text": {"field": "max"}}},
{"transform": [{"filter": "datum.id >= 7"}],
"mark": {"type": "text", "align": "right", "baseline": "middle", "font": "DejaVu Sans Mono", "fontSize": 12, "color": "black"},
"encoding": {"x": {"datum": 1942.96}, "text": {"field": "id"}}},
{"transform": [{"filter": "datum.id >= 7"}],
"mark": {"type": "text", "align": "left", "baseline": "middle", "font": "Noto Sans CJK JP", "fontSize": 9.5, "color": "black"},
"encoding": {"x": {"datum": 1943.3}, "text": {"field": "ja"}}},
{"transform": [{"filter": "datum.id == 7"}],
"mark": {"type": "text", "align": "left", "baseline": "middle", "font": "DejaVu Sans Mono", "fontSize": 12, "color": "black"},
"encoding": {"x": {"datum": 1950.1}, "text": {"field": "en"}}},
{"transform": [{"filter": "datum.id >= 8"}],
"mark": {"type": "text", "align": "left", "baseline": "middle", "font": "DejaVu Sans Mono", "fontSize": 12, "color": "black"},
"encoding": {"x": {"datum": 1947.16}, "text": {"field": "en"}}},
{"transform": [{"filter": "datum.id >= 7"}],
"mark": {"type": "text", "align": "left", "baseline": "middle", "font": "DejaVu Sans Mono", "fontSize": 12, "color": "black"},
"encoding": {"x": {"datum": 1956.6}, "text": {"field": "max"}}}
]
}
],
"resolve": {"scale": {"y": "independent"}, "axis": {"x": "independent"}}
}
